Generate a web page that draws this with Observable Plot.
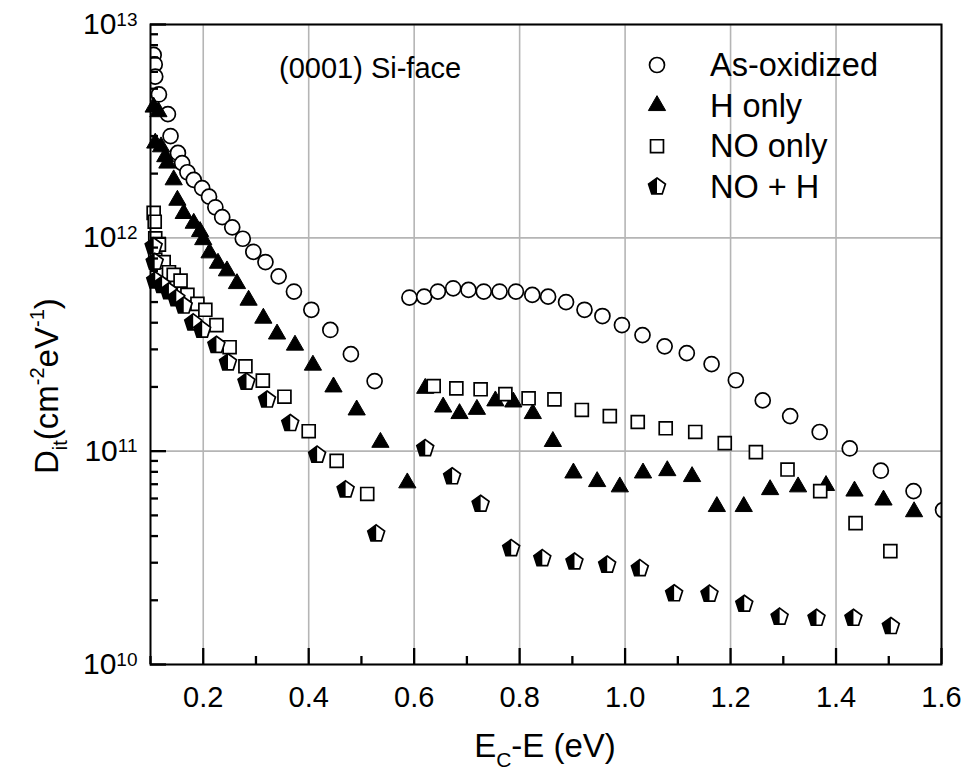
<!DOCTYPE html>
<html><head><meta charset="utf-8">
<script src="https://cdn.jsdelivr.net/npm/d3@7"></script>
<script src="https://cdn.jsdelivr.net/npm/@observablehq/plot@0.6"></script>
<style>
body{margin:0;background:#fff}
svg{font-family:"Liberation Sans",Arial,Helvetica,sans-serif}
</style>
</head><body><div id="chart"></div>
<script>
const seriesNames = ["As-oxidized", "H only", "NO only", "NO + H"];
const annotation = "(0001) Si-face";

const asOxE = [0.106,0.108,0.109,0.116,0.133,0.138,0.152,0.160,0.170,0.182,0.198,0.211,0.223,0.236,0.255,0.275,0.295,0.318,0.343,0.372,0.405,0.441,0.480,0.525,
  0.591,0.619,0.645,0.674,0.703,0.732,0.762,0.793,0.824,0.854,0.888,0.923,0.957,0.994,1.033,1.075,1.117,1.164,1.210,1.261,1.313,1.369,1.426,1.485,1.547,1.603];
const asOxD = [7.2e12,6.5e12,5.7e12,4.7e12,3.8e12,3.0e12,2.5e12,2.24e12,2.03e12,1.87e12,1.71e12,1.56e12,1.39e12,1.25e12,1.12e12,9.9e11,8.6e11,7.7e11,6.6e11,5.6e11,4.6e11,3.7e11,2.85e11,2.13e11,
  5.25e11,5.3e11,5.6e11,5.8e11,5.7e11,5.6e11,5.6e11,5.6e11,5.4e11,5.3e11,5.0e11,4.6e11,4.3e11,3.9e11,3.5e11,3.1e11,2.88e11,2.56e11,2.15e11,1.73e11,1.46e11,1.23e11,1.03e11,8.1e10,6.5e10,5.3e10];

const hOnlyE = [0.106,0.115,0.109,0.120,0.128,0.132,0.144,0.151,0.163,0.182,0.194,0.200,0.212,0.228,0.245,0.264,0.286,0.314,0.340,0.374,0.408,0.447,0.491,0.536,0.587,
  0.621,0.655,0.686,0.719,0.754,0.788,0.825,0.863,0.902,0.947,0.990,1.034,1.080,1.127,1.174,1.225,1.275,1.328,1.381,1.435,1.490,1.548];
const hOnlyD = [4.1e12,3.9e12,2.78e12,2.67e12,2.4e12,2.24e12,1.87e12,1.5e12,1.3e12,1.17e12,1.07e12,9.8e11,8.5e11,7.6e11,7.0e11,6.1e11,5.1e11,4.2e11,3.54e11,3.14e11,2.53e11,2.0e11,1.56e11,1.1e11,7.1e10,
  1.97e11,1.61e11,1.5e11,1.57e11,1.72e11,1.7e11,1.5e11,1.11e11,7.9e10,7.2e10,6.8e10,7.9e10,8.1e10,7.6e10,5.5e10,5.5e10,6.6e10,6.8e10,6.9e10,6.5e10,5.9e10,5.2e10];

const noOnlyE = [0.106,0.108,0.109,0.116,0.109,0.125,0.135,0.144,0.157,0.170,0.189,0.204,0.225,0.250,0.280,0.313,0.354,0.400,0.453,0.511,
  0.637,0.680,0.726,0.773,0.817,0.866,0.918,0.971,1.024,1.077,1.133,1.189,1.248,1.308,1.370,1.437,1.503];
const noOnlyD = [1.31e12,1.19e12,9.95e11,9.3e11,7.9e11,7.7e11,6.9e11,6.7e11,6.3e11,5.4e11,4.9e11,4.6e11,3.9e11,3.07e11,2.5e11,2.14e11,1.8e11,1.24e11,9.0e10,6.3e10,
  2.02e11,1.97e11,1.95e11,1.85e11,1.77e11,1.75e11,1.56e11,1.46e11,1.37e11,1.28e11,1.23e11,1.09e11,9.9e10,8.2e10,6.5e10,4.6e10,3.4e10];

const noHE = [0.106,0.108,0.109,0.122,0.135,0.149,0.163,0.181,0.198,0.225,0.247,0.282,0.321,0.365,0.416,0.470,0.528,
  0.621,0.672,0.726,0.784,0.843,0.904,0.966,1.028,1.093,1.160,1.226,1.293,1.363,1.433,1.504];
const noHD = [9.1e11,7.7e11,6.3e11,6.0e11,5.6e11,5.2e11,4.8e11,4.0e11,3.7e11,3.14e11,2.6e11,2.11e11,1.74e11,1.35e11,9.6e10,6.6e10,4.1e10,
  1.03e11,7.6e10,5.65e10,3.5e10,3.14e10,3.03e10,2.93e10,2.82e10,2.15e10,2.14e10,1.92e10,1.67e10,1.65e10,1.65e10,1.51e10];

const xTickLabels = [0.2, 0.4, 0.6, 0.8, 1.0, 1.2, 1.4, 1.6];
const xMinorTicks = [0.1, 0.3, 0.5, 0.7, 0.9, 1.1, 1.3, 1.5];
const yTickLabels = [1e10, 1e11, 1e12, 1e13];
const yMinorTicks = [];
for (const p of [1e10, 1e11, 1e12]) for (let k = 2; k <= 9; k++) yMinorTicks.push(k * p);

const rows = (E, D) => E.map((e, i) => ({E: e, D: D[i]}));
const asOx = rows(asOxE, asOxD), hOnly = rows(hOnlyE, hOnlyD), noOnly = rows(noOnlyE, noOnlyD), noH = rows(noHE, noHD);

const pentagon = {draw(ctx, size) {
  const R = Math.sqrt(size / 2.3776);
  for (let i = 0; i < 5; i++) {
    const a = -Math.PI / 2 + i * 2 * Math.PI / 5;
    const x = R * Math.cos(a), y = R * Math.sin(a);
    if (i) ctx.lineTo(x, y); else ctx.moveTo(x, y);
  }
  ctx.closePath();
}};
const pentagonLeft = {draw(ctx, size) {
  const R = Math.sqrt(size / 2.3776);
  ctx.moveTo(0, -R);
  for (const k of [1, 2]) {
    const a = -Math.PI / 2 - k * 2 * Math.PI / 5;
    ctx.lineTo(R * Math.cos(a), R * Math.sin(a));
  }
  ctx.lineTo(0, R * Math.cos(Math.PI / 5));
  ctx.closePath();
}};

const W = 967, H = 778, ML = 150, MR = 26, MT = 24, MB = 114;
const FW = W - ML - MR, FH = H - MT - MB;
const SW = 1.7;
const xMin = 0.1, xMax = 1.6, yMinExp = 10, yMaxExp = 13;
const xPerPx = (xMax - xMin) / FW, decPerPx = (yMaxExp - yMinExp) / FH;
const style = {
  circle: {r: 7.5, fill: "white", stroke: "black", strokeWidth: SW},
  triangle: {symbol: "triangle", r: 6.4, fill: "black", stroke: "black", strokeWidth: 1},
  square: {symbol: "square", r: 7.3, fill: "white", stroke: "black", strokeWidth: SW},
  pent: {symbol: pentagon, r: 7.7, fill: "white", stroke: "black", strokeWidth: SW},
  pentL: {symbol: pentagonLeft, r: 7.7, fill: "black"}
};
const tickStyle = {stroke: "black", strokeWidth: 2.3};
const majorLen = 16, minorLen = 8;

const chart = Plot.plot({
  width: W, height: H,
  marginLeft: ML, marginRight: MR, marginTop: MT, marginBottom: MB,
  style: {fontFamily: '"Liberation Sans", Arial, sans-serif', background: "white"},
  x: {domain: [xMin, xMax], label: null},
  y: {type: "log", domain: [10 ** yMinExp, 10 ** yMaxExp], label: null},
  marks: [
    Plot.gridX(xTickLabels, {stroke: "#b5b5b5", strokeOpacity: 1, strokeWidth: 1.6}),
    Plot.gridY(yTickLabels, {stroke: "#b5b5b5", strokeOpacity: 1, strokeWidth: 1.6}),
    Plot.dot(asOx, {x: "E", y: "D", ...style.circle, clip: true}),
    Plot.dot(hOnly, {x: "E", y: "D", ...style.triangle}),
    Plot.dot(noOnly, {x: "E", y: "D", ...style.square}),
    Plot.dot(noH, {x: "E", y: "D", ...style.pent}),
    Plot.dot(noH, {x: "E", y: "D", ...style.pentL}),
    Plot.ruleX(xTickLabels, {x: d => d, y1: 10 ** yMinExp, y2: 10 ** (yMinExp + majorLen * decPerPx), ...tickStyle}),
    Plot.ruleX(xMinorTicks, {x: d => d, y1: 10 ** yMinExp, y2: 10 ** (yMinExp + minorLen * decPerPx), ...tickStyle}),
    Plot.ruleY(yTickLabels, {y: d => d, x1: xMin, x2: xMin + majorLen * xPerPx, ...tickStyle}),
    Plot.ruleY(yMinorTicks, {y: d => d, x1: xMin, x2: xMin + minorLen * xPerPx, ...tickStyle}),
    Plot.axisX(xTickLabels, {tickSize: 0, tickPadding: 22, fontSize: 29, tickFormat: d => d.toFixed(1), label: null}),
    Plot.axisY(yTickLabels, {tickSize: 0, tickPadding: 13, fontSize: 30, tickFormat: d => "10^" + Math.round(Math.log10(d)), label: null}),
    Plot.frame({stroke: "black", strokeWidth: 2})
  ]
});

const svg = d3.select(chart);

svg.selectAll('g[aria-label="y-axis tick label"] text').each(function() {
  const t = d3.select(this);
  const s = t.text();
  if (!s.includes("^")) return;
  const [base, exp] = s.split("^");
  t.text(null);
  t.append("tspan").text(base);
  t.append("tspan").attr("font-size", 19).attr("dy", "-0.45em").text(exp);
});

const xt = svg.append("text").attr("x", 545).attr("y", 757).attr("text-anchor", "middle")
  .attr("font-size", 33).attr("fill", "black");
xt.append("tspan").text("E");
xt.append("tspan").attr("font-size", 21).attr("dy", 10).text("C");
xt.append("tspan").attr("dy", -10).text("-E (eV)");

const yt = svg.append("text").attr("transform", "translate(58,474) rotate(-90)").attr("text-anchor", "start")
  .attr("font-size", 33).attr("fill", "black");
yt.append("tspan").text("D");
yt.append("tspan").attr("font-size", 20).attr("dy", 9).text("it");
yt.append("tspan").attr("dy", -9).text("(cm");
yt.append("tspan").attr("font-size", 20).attr("dy", -14).text("-2");
yt.append("tspan").attr("dy", 14).text("eV");
yt.append("tspan").attr("font-size", 20).attr("dy", -14).text("-1");
yt.append("tspan").attr("dy", 14).text(")");

svg.append("text").attr("x", 279).attr("y", 78).attr("text-anchor", "start")
  .attr("font-size", 29).attr("fill", "black").text(annotation);

const legendSymbols = [
  [d3.symbolCircle, "white", 7.5],
  [d3.symbolTriangle, "black", 6.4],
  [d3.symbolSquare, "white", 7.3],
  [pentagon, "white", 7.7]
];
const lg = svg.append("g");
seriesNames.forEach((name, i) => {
  const cy = 65 + i * 40.6;
  const [type, fill, r] = legendSymbols[i];
  lg.append("path").attr("transform", `translate(657,${cy})`)
    .attr("d", d3.symbol(type, Math.PI * r * r)())
    .attr("fill", fill).attr("stroke", "black").attr("stroke-width", i === 1 ? 1 : SW);
  if (i === 3) lg.append("path").attr("transform", `translate(657,${cy})`)
    .attr("d", d3.symbol(pentagonLeft, Math.PI * r * r)()).attr("fill", "black");
  lg.append("text").attr("x", 710).attr("y", cy + 11).attr("text-anchor", "start")
    .attr("font-size", 32.5).attr("fill", "black").text(name);
});

document.getElementById("chart").appendChild(chart);
</script>
</body></html>
